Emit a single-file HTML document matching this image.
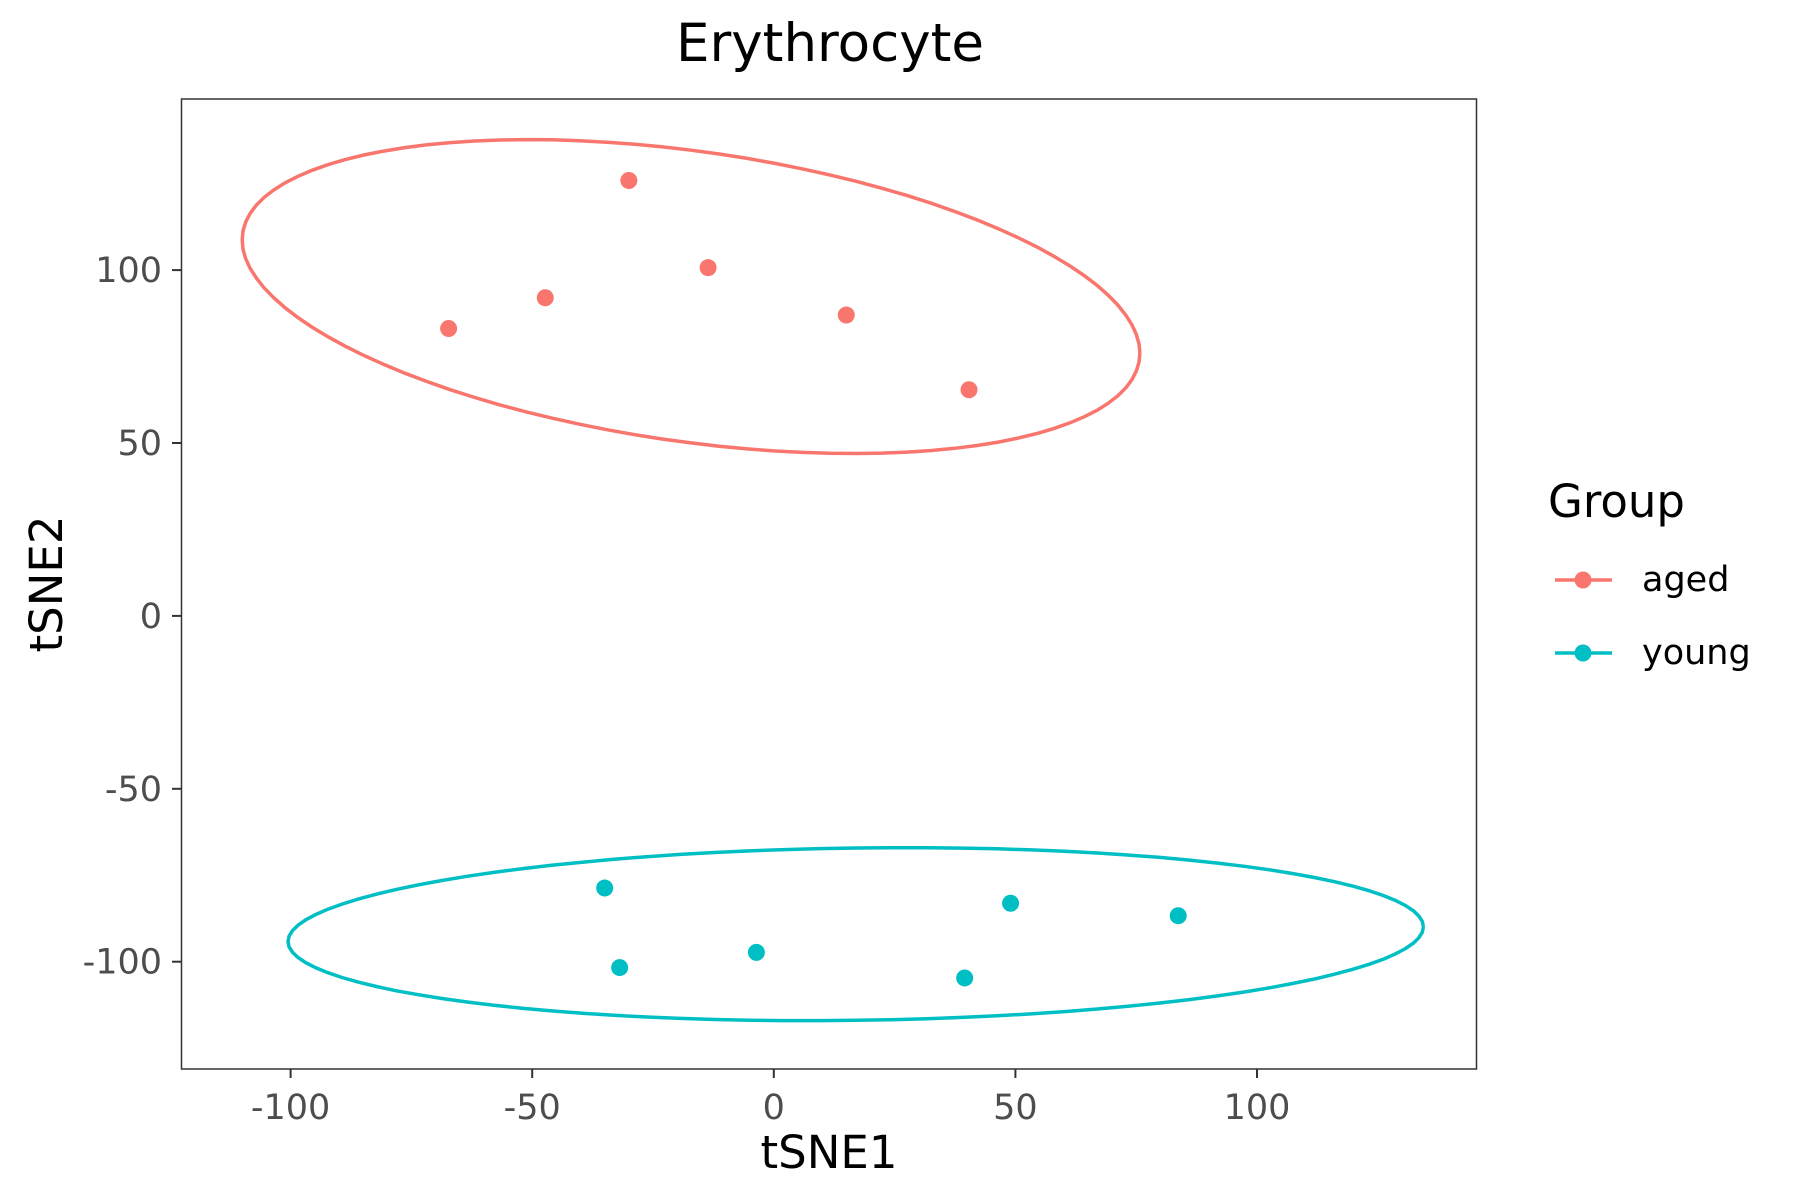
<!DOCTYPE html>
<html><head><meta charset="utf-8"><style>
html,body{margin:0;padding:0;background:#fff;}
svg{display:block;font-family:"DejaVu Sans","Liberation Sans",sans-serif;}
</style></head><body>
<svg id="chart" width="1800" height="1200" viewBox="0 0 1800 1200" xmlns="http://www.w3.org/2000/svg">
<rect width="1800" height="1200" fill="#fff"/>
<text x="830" y="61" font-size="53" text-anchor="middle" fill="#000">Erythrocyte</text>
<rect x="181.5" y="99" width="1295" height="970" fill="#fff" stroke="#333" stroke-width="1.5"/>
<g id="xticks"></g>
<g id="yticks"></g>
<g id="marks"></g>
<text x="829" y="1168" font-size="45" text-anchor="middle" fill="#000">tSNE1</text>
<text transform="translate(62,584) rotate(-90)" font-size="45" text-anchor="middle" fill="#000">tSNE2</text>
<g>
<text x="1548" y="517" font-size="45" fill="#000">Group</text>
<g>
<line x1="1555" y1="580" x2="1612" y2="580" stroke="#F8766D" stroke-width="3.5"/>
<circle cx="1583" cy="580" r="8.5" fill="#F8766D"/>
<text x="1642" y="591" font-size="35" fill="#000">aged</text>
</g>
<g>
<line x1="1555" y1="653" x2="1612" y2="653" stroke="#00BFC4" stroke-width="3.5"/>
<circle cx="1583" cy="653" r="8.5" fill="#00BFC4"/>
<text x="1642" y="664" font-size="35" fill="#000">young</text>
</g>
</g>
</svg>
<script>
const xTicks = [-100, -50, 0, 50, 100];
const yTicks = [-100, -50, 0, 50, 100];
const groups = ["aged", "young"];
const colors = ["#F8766D", "#00BFC4"];
const agedX = [-67.3, -47.3, -30, -13.6, 15, 40.4];
const agedY = [83.1, 92.0, 125.9, 100.7, 87.0, 65.4];
const youngX = [-35, -31.9, -3.6, 39.5, 49, 83.7];
const youngY = [-78.7, -101.7, -97.3, -104.7, -83.1, -86.7];

const NS = "http://www.w3.org/2000/svg";
function sx(v){ return 773.8 + v * 4.832; }
function sy(v){ return 615.9 - v * 3.458; }
function mk(tag, attrs, parent){ const e=document.createElementNS(NS,tag); for(const k in attrs) e.setAttribute(k,attrs[k]); parent.appendChild(e); return e; }

const xg = document.getElementById('xticks');
xTicks.forEach(t=>{
  const l = mk('line',{x1:sx(t),x2:sx(t),y1:1069,y2:1078,stroke:'#333','stroke-width':2},xg);
  
  
  const tx = mk('text',{x:sx(t),y:1119,'font-size':35,'text-anchor':'middle',fill:'#4d4d4d'},xg);
  tx.textContent = t;
  
  
});
const yg = document.getElementById('yticks');
yTicks.forEach(t=>{
  const l = mk('line',{x1:172,x2:181.5,y1:sy(t),y2:sy(t),stroke:'#333','stroke-width':2},yg);
  
  
  const tx = mk('text',{x:162,y:sy(t)+12,'font-size':35,'text-anchor':'end',fill:'#4d4d4d'},yg);
  tx.textContent = t;
  
  
});

const mg = document.getElementById('marks');
function ellipse(xs, ys, color, name, scaleX, scaleY){
  const n = xs.length;
  const mx = xs.reduce((a,b)=>a+b,0)/n, my = ys.reduce((a,b)=>a+b,0)/n;
  let sxx=0, syy=0, sxy=0;
  for(let i=0;i<n;i++){ sxx+=(xs[i]-mx)**2; syy+=(ys[i]-my)**2; sxy+=(xs[i]-mx)*(ys[i]-my); }
  sxx/=(n-1); syy/=(n-1); sxy/=(n-1);
  const a = Math.sqrt(sxx), b = sxy/a, c = Math.sqrt(Math.max(syy - b*b, 0));
  let d = '';
  for(let k=0;k<=100;k++){
    const th = 2*Math.PI*k/100, u = Math.cos(th)*scaleX, v = Math.sin(th)*scaleY;
    const px = mx + a*u, py = my + b*u*0.85 + c*v;
    d += (k? 'L':'M') + sx(px).toFixed(1) + ',' + sy(py).toFixed(1);
  }
  const p = mk('path',{d:d,fill:'none',stroke:color,'stroke-width':3.5},mg);
  
  
}
function points(xs, ys, color, name){
  xs.forEach((x,i)=>{
    const c = mk('circle',{cx:sx(x),cy:sy(ys[i]),r:8.5,fill:color},mg);
    
    
  });
}
ellipse(agedX, agedY, colors[0], 'aged-ellipse', 2.33, 2.3);
ellipse(youngX, youngY, colors[1], 'young-ellipse', 2.45, 2.35);
points(agedX, agedY, colors[0], 'aged-point');
points(youngX, youngY, colors[1], 'young-point');
</script>
</body></html>
